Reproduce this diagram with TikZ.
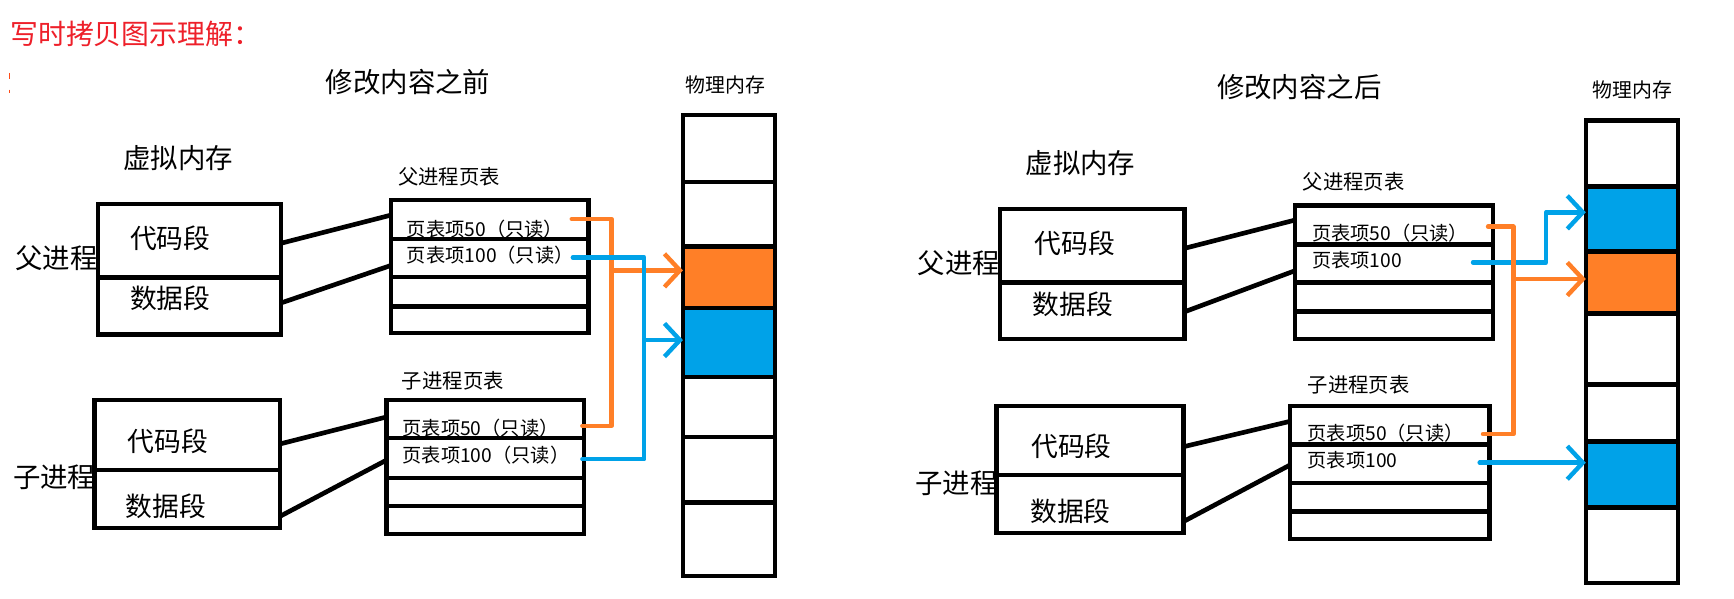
\documentclass[tikz,border=0pt]{standalone}
\usepackage{fontspec}
\setmainfont{Noto Sans CJK SC}
\usetikzlibrary{arrows.meta,fit,calc}
\definecolor{orng}{RGB}{255,127,39}
\definecolor{blu}{RGB}{0,162,232}
\definecolor{ttl}{RGB}{238,32,42}
\begin{document}
\begin{tikzpicture}[x=0.5pt,y=-0.5pt,
  box/.style={draw=black,line width=2pt,inner sep=0pt,outer sep=0pt},
  blk/.style={draw=black,line width=2pt},
  link/.style={draw=black,line width=2.1pt},
  oline/.style={draw=orng,line width=2pt,line cap=round,line join=round},
  bline/.style={draw=blu,line width=2pt,line cap=round,line join=round},
  tip/.style={-{Straight Barb[length=7pt,width=15pt]}},
  big/.style={inner sep=0pt,font=\fontsize{12.4}{14}\selectfont},
  seg/.style={inner sep=0pt,font=\fontsize{12.1}{14}\selectfont},
  ptlab/.style={inner sep=0pt,font=\fontsize{9.2}{10}\selectfont},
  entry/.style={inner sep=0pt,anchor=west,font=\fontsize{8.7}{9}\selectfont},
  memlab/.style={inner sep=0pt,font=\fontsize{9}{10}\selectfont}]
\fill[white] (0,0) rectangle (1568,541);
\useasboundingbox (0,0) rectangle (1568,541);

% title
\node[anchor=west,inner sep=0pt,text=ttl,font=\fontsize{12.6}{14}\selectfont] (title) at (9,31) {写时拷贝图示理解：};
\draw[orng!60!red,line width=0.5pt] (8.4,66) -- (8.4,71);
\draw[orng!60!red,line width=0.5pt] (8.4,81) -- (8.4,84);

% ================= LEFT PANEL =================
\node[big] (tL) at (369,74) {修改内容之前};
\node[memlab] (mlL) at (656,77) {物理内存};
\node[big] (vmL) at (161,143) {虚拟内存};
\node[ptlab] (pptlL) at (406,160) {父进程页表};
\node[ptlab] (cptlL) at (409.5,344) {子进程页表};
\node[big] (ppL) at (51,233.6) {父进程};
\node[big] (cpL) at (49,432) {子进程};

% parent virtual memory
\node[box,fit={(88.7,184.5)(254,302.3)}] (pvL) {};
\draw[blk] (88.7,251) -- (254,251);
\node[seg] (pcodeL) at (154,215.6) {代码段};
\node[seg] (pdataL) at (154,270) {数据段};

% parent page table
\node[box,fit={(353.6,181)(532,301)}] (pptL) {};
\draw[blk] (353.6,216) -- (532,216);
\draw[blk] (353.6,250.6) -- (532,250.6);
\draw[blk] (353.6,277) -- (532,277);
\node[entry] (pe50L) at (367.6,207.4) {页表项50（只读）};
\node[entry] (pe100L) at (367.6,230.6) {页表项100（只读）};

\draw[link] ($(pvL.north east)+(0,35.5)$) -- ($(pptL.north west)+(0,13.5)$);
\draw[link] ($(pvL.north east)+(0,89.5)$) -- ($(pptL.north west)+(0,59)$);

% child virtual memory
\node[box,fit={(85.3,361.7)(253,477.5)}] (cvL) {};
\draw[blk] (85.3,425) -- (253,425);
\node[seg] (ccodeL) at (152,399.4) {代码段};
\node[seg] (cdataL) at (150,458.2) {数据段};

% child page table
\node[box,fit={(349.6,361.7)(528,483)}] (cptL) {};
\draw[blk] (349.6,396) -- (528,396);
\draw[blk] (349.6,432) -- (528,432);
\draw[blk] (349.6,457.6) -- (528,457.6);
\node[entry] (ce50L) at (363.6,387.3) {页表项50（只读）};
\node[entry] (ce100L) at (363.6,411.4) {页表项100（只读）};

\draw[link] ($(cvL.north east)+(0,39.8)$) -- ($(cptL.north west)+(0,15.3)$);
\draw[link] ($(cvL.north east)+(0,105.3)$) -- ($(cptL.north west)+(0,54.3)$);

% physical memory left
\fill[orng] (617.6,223) rectangle (701,278.5);
\fill[blu] (617.6,278.5) rectangle (701,341);
\node[box,fit={(617.6,104)(701,521)}] (mL) {};
\foreach \yy in {164.4,223,278.5,341,395,454.5}
  \draw[blk] (617.6,\yy) -- (701,\yy);

% left arrows
\coordinate (oLa) at (517,198);
\coordinate (oLb) at (553,198);
\coordinate (oLc) at (553,385);
\coordinate (oLd) at (526.6,385);
\coordinate (oLe) at (553,244.5);
\draw[oline] (oLa) -- (oLb) -- (oLc) -- (oLd);
\draw[oline,tip] (oLe) -- (oLe -| mL.west);

\coordinate (bLa) at (518,232.7);
\coordinate (bLb) at (582.6,232.7);
\coordinate (bLc) at (582.6,415.3);
\coordinate (bLd) at (526.6,415.3);
\coordinate (bLe) at (582.6,307.5);
\draw[bline] (bLa) -- (bLb) -- (bLc) -- (bLd);
\draw[bline,tip] (bLe) -- (bLe -| mL.west);

% ================= RIGHT PANEL =================
\node[big] (tR) at (1175,78.4) {修改内容之后};
\node[memlab] (mlR) at (1476,81.4) {物理内存};
\node[big] (vmR) at (977,147.7) {虚拟内存};
\node[ptlab] (pptlR) at (1224,164.3) {父进程页表};
\node[ptlab] (cptlR) at (1228.5,348) {子进程页表};
\node[big] (ppR) at (867,238) {父进程};
\node[big] (cpR) at (865,437) {子进程};

\node[box,fit={(904,189)(1071,306.7)}] (pvR) {};
\draw[blk] (904,255.6) -- (1071,255.6);
\node[seg] (pcodeR) at (972,220) {代码段};
\node[seg] (pdataR) at (970,275) {数据段};

\node[box,fit={(1171,186)(1350,306.7)}] (pptR) {};
\draw[blk] (1171,221) -- (1350,221);
\draw[blk] (1171,255.6) -- (1350,255.6);
\draw[blk] (1171,281.8) -- (1350,281.8);
\node[entry] (pe50R) at (1186,211) {页表项50（只读）};
\node[entry] (pe100R) at (1186,235) {页表项100};

\draw[link] ($(pvR.north east)+(0,35.6)$) -- ($(pptR.north west)+(0,13)$);
\draw[link] ($(pvR.north east)+(0,93)$) -- ($(pptR.north west)+(0,58.8)$);

\node[box,fit={(901,367)(1070,482)}] (cvR) {};
\draw[blk] (901,429.5) -- (1070,429.5);
\node[seg] (ccodeR) at (969,404) {代码段};
\node[seg] (cdataR) at (968,462.7) {数据段};

\node[box,fit={(1166.5,367)(1347,487.5)}] (cptR) {};
\draw[blk] (1166.5,401.8) -- (1347,401.8);
\draw[blk] (1166.5,436.5) -- (1347,436.5);
\draw[blk] (1166.5,462.7) -- (1347,462.7);
\node[entry] (ce50R) at (1182,391.9) {页表项50（只读）};
\node[entry] (ce100R) at (1182,416) {页表项100};

\draw[link] ($(cvR.north east)+(0,37)$) -- ($(cptR.north west)+(0,14)$);
\draw[link] ($(cvR.north east)+(0,104.7)$) -- ($(cptR.north west)+(0,53.5)$);

% physical memory right
\fill[blu] (1434,168.8) rectangle (1517.5,227.6);
\fill[orng] (1434,227.6) rectangle (1517.5,283.3);
\fill[blu] (1434,399.4) rectangle (1517.5,459);
\node[box,fit={(1434,109)(1517.5,527)}] (mR) {};
\foreach \yy in {168.8,227.6,283.3,347.5,399.4,459}
  \draw[blk] (1434,\yy) -- (1517.5,\yy);

% right arrows
\coordinate (bRa) at (1332,237.2);
\coordinate (bRb) at (1398,237.2);
\coordinate (bRc) at (1398,192);
\draw[bline,tip] (bRa) -- (bRb) -- (bRc) -- (bRc -| mR.west);

\coordinate (oRa) at (1345.6,205);
\coordinate (oRb) at (1368.5,205);
\coordinate (oRc) at (1368.5,392.5);
\coordinate (oRd) at (1341,392.5);
\coordinate (oRe) at (1368.5,252.3);
\draw[oline] (oRa) -- (oRb) -- (oRc) -- (oRd);
\draw[oline,tip] (oRe) -- (oRe -| mR.west);

\coordinate (bRd) at (1338,418.4);
\draw[bline,tip] (bRd) -- (bRd -| mR.west);
\end{tikzpicture}
\end{document}
